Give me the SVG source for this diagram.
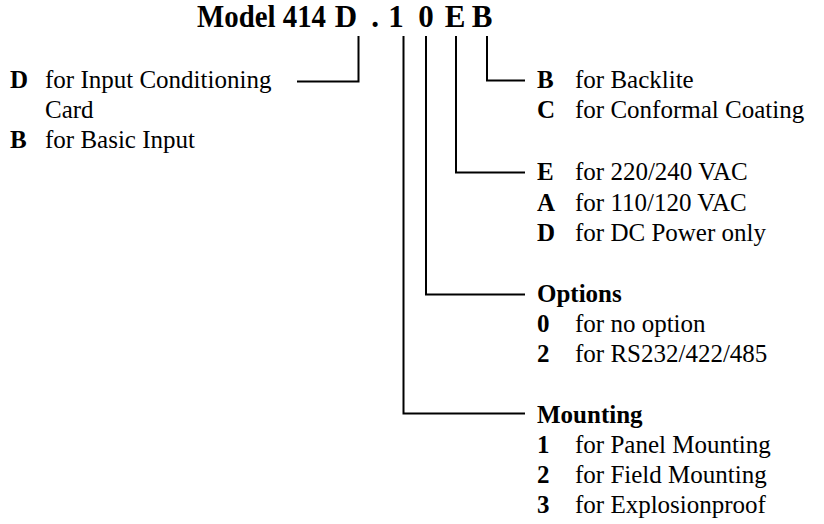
<svg xmlns="http://www.w3.org/2000/svg" width="824" height="524" viewBox="0 0 824 524">
<style>
.t{font-size:31px;font-weight:bold}
.b{font-size:25px}
.k{font-weight:bold}
.c path{stroke:#000;stroke-width:2;fill:none}
</style>
<rect width="824" height="524" fill="#fff"/>
<g font-family="Liberation Serif" fill="#000">
<g id="title">
<text class="t" x="197" y="27" textLength="129" lengthAdjust="spacingAndGlyphs">Model 414</text>
<text class="t" x="346" y="27" text-anchor="middle">D</text>
<text class="t" x="375" y="27" text-anchor="middle">.</text>
<text class="t" x="396" y="27" text-anchor="middle">1</text>
<text class="t" x="426" y="27" text-anchor="middle">0</text>
<text class="t" x="455" y="27" text-anchor="middle">E</text>
<text class="t" x="482" y="27" text-anchor="middle">B</text>
</g>
<g class="c" id="connectors">
<path d="M297 81.5H358.5V36"/>
<path d="M403.5 36V413.5H525"/>
<path d="M426 36V294.5H525"/>
<path d="M456 36V172.5H525"/>
<path d="M487 36V80.5H525"/>
</g>
<g id="input" class="b">
<text x="10" y="87.5" class="k">D</text><text x="45" y="87.5">for Input Conditioning</text>
<text x="45" y="118">Card</text>
<text x="10" y="148" class="k">B</text><text x="45" y="148">for Basic Input</text>
</g>
<g id="backlite" class="b">
<text x="537" y="88" class="k">B</text><text x="575" y="88">for Backlite</text>
<text x="537" y="118" class="k">C</text><text x="575" y="118">for Conformal Coating</text>
</g>
<g id="power" class="b">
<text x="537" y="180" class="k">E</text><text x="575" y="180">for 220/240 VAC</text>
<text x="537" y="210.5" class="k">A</text><text x="575" y="210.5">for 110/120 VAC</text>
<text x="537" y="241" class="k">D</text><text x="575" y="241">for DC Power only</text>
</g>
<g id="options" class="b">
<text x="537" y="302" class="k">Options</text>
<text x="537" y="332" class="k">0</text><text x="575" y="332">for no option</text>
<text x="537" y="362" class="k">2</text><text x="575" y="362">for RS232/422/485</text>
</g>
<g id="mounting" class="b">
<text x="537" y="423" class="k">Mounting</text>
<text x="537" y="453" class="k">1</text><text x="575" y="453">for Panel Mounting</text>
<text x="537" y="483" class="k">2</text><text x="575" y="483">for Field Mounting</text>
<text x="537" y="513" class="k">3</text><text x="575" y="513">for Explosionproof</text>
</g>
</g>
</svg>
